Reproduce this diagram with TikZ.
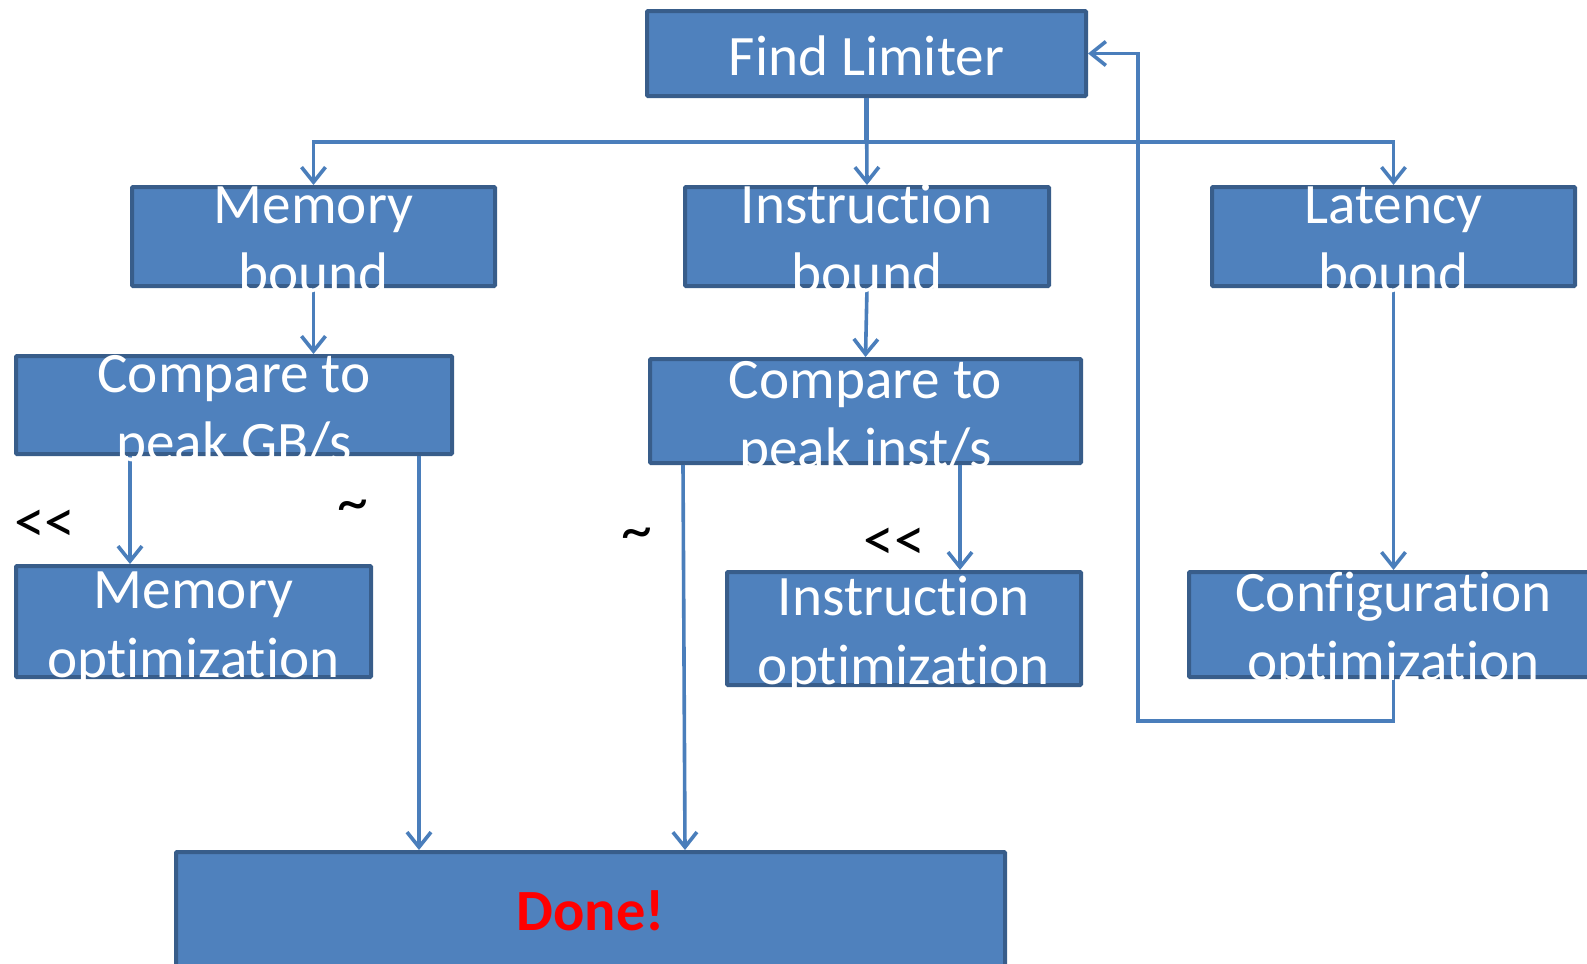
\documentclass[tikz,border=0pt]{standalone}
\usepackage{fontspec}
\setmainfont[Ligatures=NoCommon]{Carlito}
\usetikzlibrary{arrows.meta,calc}
\definecolor{boxfill}{HTML}{4F81BD}
\definecolor{boxline}{HTML}{385D8A}
\definecolor{linkblue}{HTML}{4A7EBB}
\definecolor{donered}{HTML}{FF0000}
% two centred lines with a fixed height and depth
\newcommand\linestrut{\rule[-0.25em]{0pt}{1em}}
\newcommand\twolines[2]{\linestrut #1\\\linestrut #2}
\tikzset{
  box/.style={draw=boxline, fill=boxfill, line width=2pt, inner sep=0pt, rounded corners=0.5pt},
  boxtext/.style={text=white, align=center, inner sep=0pt, yshift=-3.6pt,
    font=\fontsize{28.6pt}{34.5pt}\selectfont},
  conn/.style={draw=linkblue, line width=1.8pt,
    -{Straight Barb[length=7.5pt,width=12pt,line width=1.8pt]}},
  link/.style={draw=linkblue, line width=1.8pt},
  relation/.style={text=black, inner sep=0pt, font=\fontsize{31pt}{34pt}\selectfont},
}
\begin{document}
\begin{tikzpicture}[x=0.5pt,y=-0.5pt]
\useasboundingbox (0,0) rectangle (1587,964);
\clip (0,0) rectangle (1587,964);

% boxes
\node[box, minimum width=219.5pt, minimum height=42.5pt] (fl) at (866.5,53.5) {};
\node[box, minimum width=181.5pt, minimum height=49.5pt] (mb) at (313.5,236.5) {};
\node[box, minimum width=182pt,   minimum height=49.5pt] (ib) at (867,236.5) {};
\node[box, minimum width=181.5pt, minimum height=49.5pt] (lb) at (1393.5,236.5) {};
\node[box, minimum width=218pt,   minimum height=49pt]   (cm) at (234,405) {};
\node[box, minimum width=215.5pt, minimum height=52pt]   (ci) at (865.5,411) {};
\node[box, minimum width=177.5pt, minimum height=55.5pt] (mo) at (193.5,621.5) {};
\node[box, minimum width=177pt,   minimum height=56.5pt] (io) at (904,628.5) {};
\node[box, minimum width=204.5pt, minimum height=52.5pt] (co) at (1393.5,624.5) {};
\node[box, minimum width=414.5pt, minimum height=59pt]   (done) at (590.5,911) {};

% connectors
\coordinate (split) at (866.5,142);
\draw[link, line width=2.6pt] (fl.south) -- (split);
\draw[conn] (fl.south) -- (ib.north);
\draw[conn] (split) -| (mb.north);
\draw[conn] (split) -| (lb.north);
\draw[conn] (mb.south) -- (mb.south |- cm.north);
\draw[conn] (ib.south) -- (ci.north);
\draw[conn] (lb.south) -- (co.north);
\draw[conn] ($(cm.south west)+(116,0)$) -- ($(mo.north west)+(116,0)$);
\draw[conn] ($(cm.south east)+(-35,0)$) -- ($(done.north west)+(245,0)$);
\draw[conn] ($(ci.south west)+(35,0)$) -- ($(done.north west)+(511,0)$);
\draw[conn] ($(ci.south west)+(312,0)$) -- ($(io.north west)+(235,0)$);
\coordinate (ret) at (1138,721);
\draw[conn] (co.south) |- (ret) |- (fl.east);

% box texts
\node[boxtext, yshift=2.6pt] (fl-t) at (fl.center) {Find Limiter};
\node[boxtext] (mb-t) at (mb.center) {\twolines{Memory}{bound}};
\node[boxtext] (ib-t) at (ib.center) {\twolines{Instruction}{bound}};
\node[boxtext] (lb-t) at (lb.center) {\twolines{Latency}{bound}};
\node[boxtext] (cm-t) at (cm.center) {\twolines{Compare to}{peak GB/s}};
\node[boxtext] (ci-t) at (ci.center) {\twolines{Compare to}{peak inst/s}};
\node[boxtext] (mo-t) at (mo.center) {\twolines{Memory}{optimization}};
\node[boxtext] (io-t) at (io.center) {\twolines{Instruction}{optimization}};
\node[boxtext] (co-t) at (co.center) {\twolines{Configuration}{optimization}};
\node[boxtext, yshift=3.6pt, text=donered, font=\fontsize{29.2pt}{33pt}\selectfont\bfseries] (done-t) at (done.center) {Done!};

% comparison marks
\node[relation] (lt1) at (45,526) {{<}{<}};
\node[relation] (sim1) at (353,511) {\textasciitilde};
\node[relation] (sim2) at (637,539) {\textasciitilde};
\node[relation] (lt2) at (894,544) {{<}{<}};
\end{tikzpicture}
\end{document}
